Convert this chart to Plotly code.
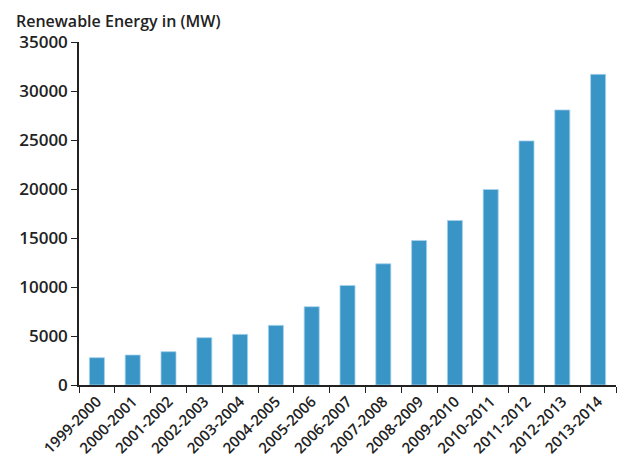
import plotly.graph_objects as go

categories = ["1999-2000", "2000-2001", "2001-2002", "2002-2003", "2003-2004",
              "2004-2005", "2005-2006", "2006-2007", "2007-2008", "2008-2009",
              "2009-2010", "2010-2011", "2011-2012", "2012-2013", "2013-2014"]
values = [2790, 3060, 3400, 4830, 5170, 6090, 7990, 10160, 12370, 14750,
          16790, 19950, 24910, 28070, 31700]
y_ticks = [0, 5000, 10000, 15000, 20000, 25000, 30000, 35000]
y_tick_labels = ["0", "5000", "10000", "15000", "20000", "25000", "30000", "35000"]
title_text = "Renewable Energy in (MW)"

W, H = 621, 460
L, R, T, B = 79, 5, 42, 75
FONT = "Open Sans"

fig = go.Figure(go.Bar(
    x=categories, y=values, width=0.42,
    marker=dict(color="#3a95c7", line=dict(color="#a9d3ec", width=0.8)),
))

fig.update_layout(
    width=W, height=H,
    margin=dict(l=L, r=R, t=T, b=B),
    plot_bgcolor="white", paper_bgcolor="white",
    showlegend=False,
    font=dict(family=FONT, color="#222222"),
    annotations=[dict(text=title_text,
                      x=(14 - L) / (W - L - R), y=1 + (T - 21) / (H - T - B),
                      xref="paper", yref="paper",
                      showarrow=False, xanchor="left", yanchor="middle",
                      font=dict(size=16, family=FONT, color="#222222", weight=600))],
)

fig.update_xaxes(
    type="category", tickson="boundaries", ticks="outside", ticklen=6,
    tickcolor="#222", showline=True, linecolor="#222", linewidth=1.5,
    tickangle=-45, tickfont=dict(size=15, family=FONT, color="#222", weight=600),
    showgrid=False, range=[-0.5, 14.5], automargin=False,
)
fig.update_yaxes(
    range=[0, 35000], tickvals=y_ticks, ticktext=y_tick_labels,
    ticks="outside", ticklen=6,
    tickcolor="#222", showline=True, linecolor="#222", linewidth=1.5,
    tickfont=dict(size=17, family=FONT, color="#222", weight=600),
    showgrid=False, zeroline=False, automargin=False,
)

fig.write_html("out.html")
